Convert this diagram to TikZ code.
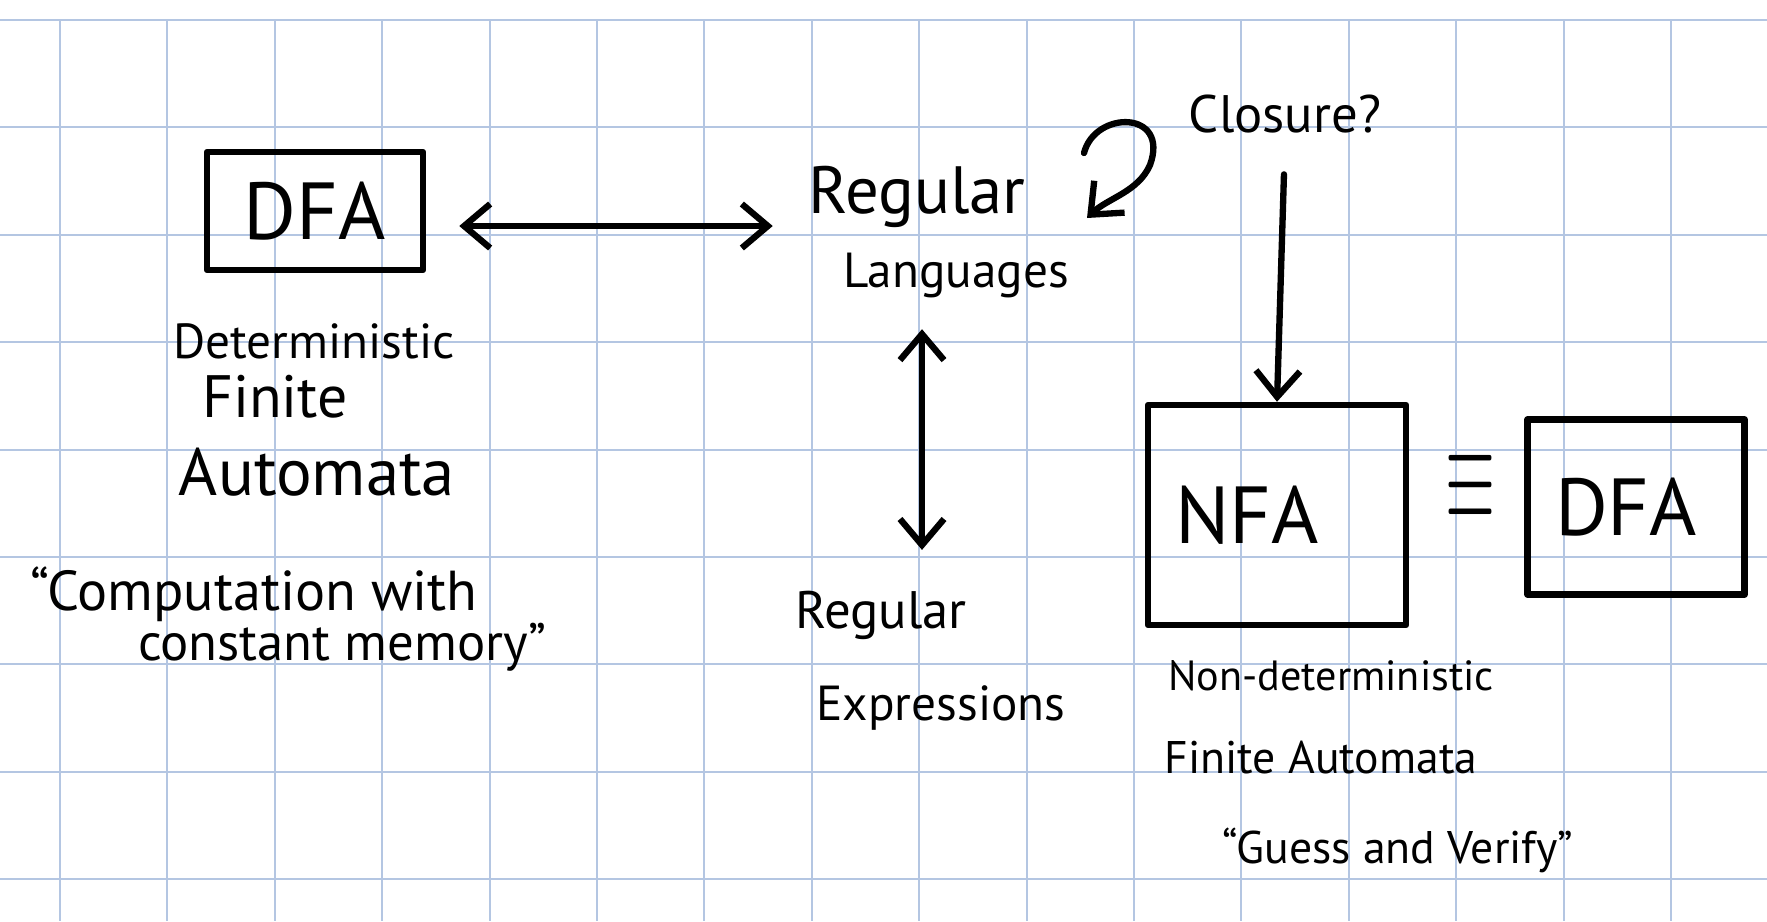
\documentclass[tikz,border=0pt]{standalone}
\usepackage{graphicx}
\usepackage{fontspec}
\setmainfont{PT Sans}
\usetikzlibrary{arrows.meta}
\usetikzlibrary{positioning}
\definecolor{gridblue}{RGB}{180,198,226}
\newcommand{\fsz}[1]{\fontsize{#1}{#1}\selectfont}
\tikzset{
  ink/.style={line width=1.8pt, line cap=round, line join=round},
  arr/.style={ink, -{Straight Barb[length=2.6mm,width=4.4mm]}},
  dbl/.style={ink, {Straight Barb[length=2.6mm,width=4.4mm]}-{Straight Barb[length=2.6mm,width=4.4mm]}},
  box/.style={draw, ink, inner sep=0pt},
  hand/.style={anchor=base, inner sep=2pt},
}

\begin{document}
\begin{tikzpicture}[x={(0.01cm,0)},y={(0,-0.01cm)}]
    \useasboundingbox (0,0) rectangle (1767,921);

    % GRID PAPER
    \foreach \k in {0,...,8}
      \draw[gridblue, line width=0.6pt] (0,20+107.4*\k) -- (1767,20+107.4*\k);
    \foreach \k in {0,...,15}
      \draw[gridblue, line width=0.6pt] (60+107.4*\k,20) -- (60+107.4*\k,921);

    % DFA SIDE
    \node[box, minimum width=2.16cm, minimum height=1.18cm, font=\fsz{23}] (dfaL) at (315,211) {DFA};
    \node[hand, font=\fsz{14}] (det) at (314,358) {Deterministic};
    \node[hand, font=\fsz{17}] (fin) at (275,417) {Finite};
    \node[hand, font=\fsz{19}] (aut) at (317,495) {Automata};
    \node[hand, font=\fsz{16}] (comp) at (254,610) {“Computation with};
    \node[hand, font=\fsz{15}] (const) at (342,660) {constant memory”};

    % LANGUAGES AND EXPRESSIONS
    \node[hand, font=\fsz{19}] (regA) at (917,213) {Regular};
    \node[hand, font=\fsz{14}] (langA) at (956,287) {Languages};
    \node[hand, font=\fsz{15}] (regB) at (881,628) {Regular};
    \node[hand, font=\fsz{14}] (expr) at (941,720) {Expressions};
    \node[hand, font=\fsz{15}] (clo) at (1285,132) {Closure?};

    % NFA SIDE
    \node[box, minimum width=2.58cm, minimum height=2.2cm, font=\fsz{23}] (nfa) at (1277,515) {NFA\rule{0.6cm}{0pt}};
    \node (eqv) at (1470,487) {\resizebox{0.5cm}{0.64cm}{$\equiv$}};
    \node[box, minimum width=2.17cm, minimum height=1.75cm, font=\fsz{23}] (dfaR) at (1636,507) {DFA\rule{0.2cm}{0pt}};
    \node[hand, font=\fsz{12}] (nondet) at (1331,690) {Non-deterministic};
    \node[hand, font=\fsz{13}] (finaut) at (1321,773) {Finite Automata};
    \node[hand, font=\fsz{13}] (guess) at (1398,863) {“Guess and Verify”};

    % ARROWS
    \coordinate (arL) at ([yshift=-0.15cm]dfaL.east);
    \draw[dbl, shorten <=0.33cm, shorten >=0.28cm] (arL) -- (arL -| regA.west);
    \coordinate (vx) at (922,0);
    \draw[dbl, shorten <=0.24cm, shorten >=0.33cm] (langA.south -| vx) -- (regB.north -| vx);
    \coordinate (lpA) at (1084,153);
    \coordinate (lpB) at (1087,218);
    \draw[arr] (lpA) .. controls (1095,110) and (1170,110) .. (1150,165)
                     .. controls (1138,192) and (1108,198) .. (lpB);
    \draw[arr, shorten <=0.34cm] (clo.south) -- (nfa.north);
\end{tikzpicture}
\end{document}
